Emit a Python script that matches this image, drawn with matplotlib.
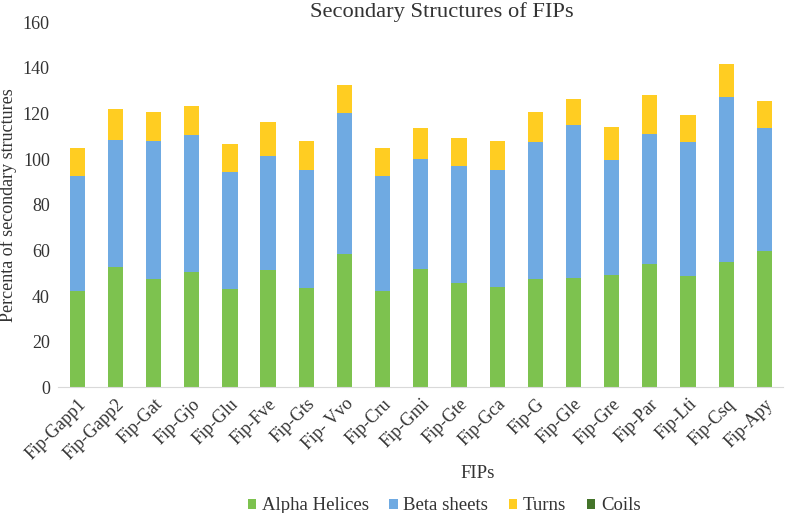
import numpy as np
import matplotlib.pyplot as plt

plt.rcParams['font.family'] = ['Liberation Serif', 'DejaVu Serif']

# data
fips = ['Fip-Gapp1', 'Fip-Gapp2', 'Fip-Gat', 'Fip-Gjo', 'Fip-Glu', 'Fip-Fve',
        'Fip-Gts', 'Fip- Vvo', 'Fip-Cru', 'Fip-Gmi', 'Fip-Gte', 'Fip-Gca',
        'Fip-G', 'Fip-Gle', 'Fip-Gre', 'Fip-Par', 'Fip-Lti', 'Fip-Csq', 'Fip-Apy']
alpha = [42.3, 52.8, 47.3, 50.3, 43.0, 51.6, 43.3, 58.6, 42.3, 52.0,
         45.5, 43.9, 47.3, 48.0, 49.2, 54.1, 48.9, 55.0, 59.8]
beta = [50.4, 55.6, 60.4, 60.1, 51.1, 49.8, 51.7, 61.6, 50.4, 48.1,
        51.4, 51.1, 60.2, 66.7, 50.3, 56.9, 58.5, 72.3, 54.0]
turns = [12.3, 13.4, 12.7, 12.7, 12.7, 14.7, 12.7, 12.4, 12.3, 13.6,
         12.5, 12.7, 12.9, 11.8, 14.5, 17.2, 11.8, 14.3, 11.8]
coils = [0] * 19

c_alpha = '#7DC24F'
c_beta = '#6FAAE2'
c_turns = '#FFCD22'
c_coils = '#44742A'

fig, ax = plt.subplots(figsize=(7.97, 5.13), dpi=100)
fig.subplots_adjust(left=0.073, right=0.983, top=0.957, bottom=0.245)

x = np.arange(len(fips))
a = np.array(alpha)
b = np.array(beta)
t = np.array(turns)
w = 0.4
ax.bar(x, a, w, color=c_alpha, label='Alpha Helices')
ax.bar(x, b, w, bottom=a, color=c_beta, label='Beta sheets')
ax.bar(x, t, w, bottom=a + b, color=c_turns, label='Turns')
ax.bar(x, coils, w, bottom=a + b + t, color=c_coils, label='Coils')

ax.set_ylim(0, 160)
ax.set_yticks(np.arange(0, 161, 20))
ax.set_xlim(-0.5, len(fips) - 0.5)
ax.set_xticks(x)
ax.set_xticklabels(fips, rotation=45, ha='right', rotation_mode='anchor')
ax.tick_params(length=0, labelsize=13, colors='#333333', pad=6)

for s in ['top', 'right', 'left']:
    ax.spines[s].set_visible(False)
ax.spines['bottom'].set_color('#d9d9d9')

ax.set_title('Secondary Structures of FIPs', fontsize=16.2, color='#333333',
             pad=3, x=0.529)
ax.set_ylabel('Percenta of secondary structures', fontsize=13, color='#333333')
ax.set_xlabel('FIPs', fontsize=13.5, color='#333333')
ax.xaxis.set_label_coords(0.579, -0.213)

ax.legend(loc='upper center', bbox_to_anchor=(0.532, -0.255), ncol=4, frameon=False,
          fontsize=13.5, handlelength=0.45, handleheight=0.45, handletextpad=0.3,
          columnspacing=1.1, labelcolor='#333333')

plt.savefig('out.png', dpi=100)
